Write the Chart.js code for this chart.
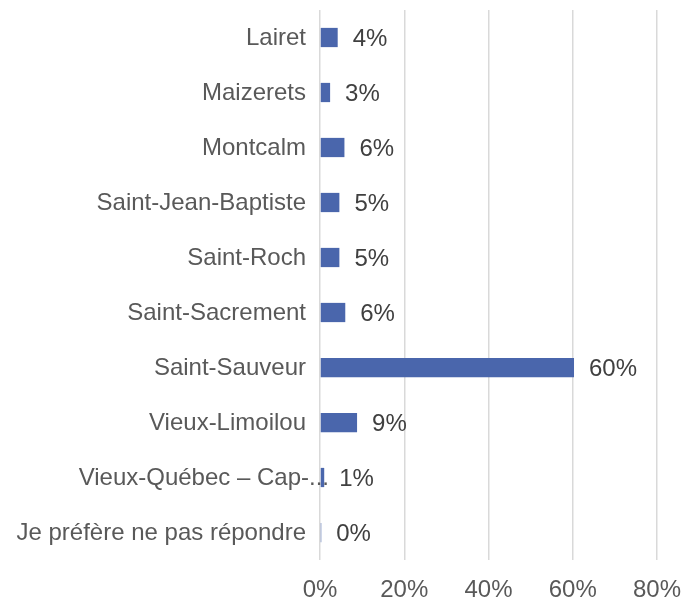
<!DOCTYPE html>
<html>
<head>
<meta charset="utf-8">
<script src="https://cdn.jsdelivr.net/npm/chart.js@4/dist/chart.umd.min.js"></script>
<style>
html,body{margin:0;padding:0;background:#fff;}
#wrap{width:682px;height:599px;position:relative;}
</style>
</head>
<body>
<div id="wrap"><canvas id="c" width="682" height="599"></canvas></div>
<script>
const categories = ['Lairet','Maizerets','Montcalm','Saint-Jean-Baptiste','Saint-Roch','Saint-Sacrement','Saint-Sauveur','Vieux-Limoilou','Vieux-Québec – Cap-...','Je préfère ne pas répondre'];
const values = [4.2, 2.4, 5.8, 4.6, 4.6, 6.0, 60.3, 8.8, 1.0, 0.3];
const valueLabels = ['4%','3%','6%','5%','5%','6%','60%','9%','1%','0%'];
const xTicks = [0, 20, 40, 60, 80];
const overflowLabelIndex = 8;

const FONT = "'Liberation Sans', Arial, sans-serif";

const dataLabelPlugin = {
  id: 'dataLabels',
  afterDatasetsDraw(chart) {
    const ctx = chart.ctx;
    const meta = chart.getDatasetMeta(0);
    ctx.save();
    ctx.font = '24px ' + FONT;
    ctx.textBaseline = 'middle';
    ctx.fillStyle = '#404040';
    ctx.textAlign = 'left';
    meta.data.forEach((bar, i) => {
      ctx.fillText(valueLabels[i], bar.x + 15, bar.y + 1.5);
    });
    // the truncated category label runs past the axis, over the bar, as in the source
    const b = meta.data[overflowLabelIndex];
    ctx.fillStyle = '#595959';
    ctx.textAlign = 'right';
    ctx.fillText(categories[overflowLabelIndex], chart.chartArea.left + 9, b.y + 1);
    ctx.restore();
  }
};

new Chart(document.getElementById('c'), {
  type: 'bar',
  data: {
    labels: categories,
    datasets: [{
      data: values,
      backgroundColor: '#4A66AC',
      borderWidth: 0,
      categoryPercentage: 1,
      barPercentage: 0.35
    }]
  },
  plugins: [dataLabelPlugin],
  options: {
    indexAxis: 'y',
    responsive: false,
    animation: false,
    layout: { padding: { left: 0, right: 25, top: 10, bottom: 0 } },
    plugins: { legend: { display: false }, tooltip: { enabled: false } },
    scales: {
      x: {
        min: 0, max: 80,
        afterBuildTicks(scale) { scale.ticks = xTicks.map(v => ({ value: v })); },
        afterFit(scale) { scale.paddingLeft = 0; scale.paddingRight = 0; scale.height = 39; },
        grid: { color: '#d9d9d9', lineWidth: 1.5, drawTicks: false },
        border: { display: false },
        ticks: {
          padding: 15.5,
          color: '#595959',
          font: { size: 24, family: FONT },
          callback: v => v + '%'
        }
      },
      y: {
        grid: { display: false, drawTicks: false },
        border: { display: false },
        afterFit(scale) { scale.width = 320; scale.paddingTop = 0; scale.paddingBottom = 0; },
        ticks: {
          padding: 14,
          labelOffset: 1,
          color: ctx => ctx.index === overflowLabelIndex ? 'rgba(0,0,0,0)' : '#595959',
          font: { size: 24, family: FONT },
          autoSkip: false
        }
      }
    }
  }
});
</script>
</body>
</html>
